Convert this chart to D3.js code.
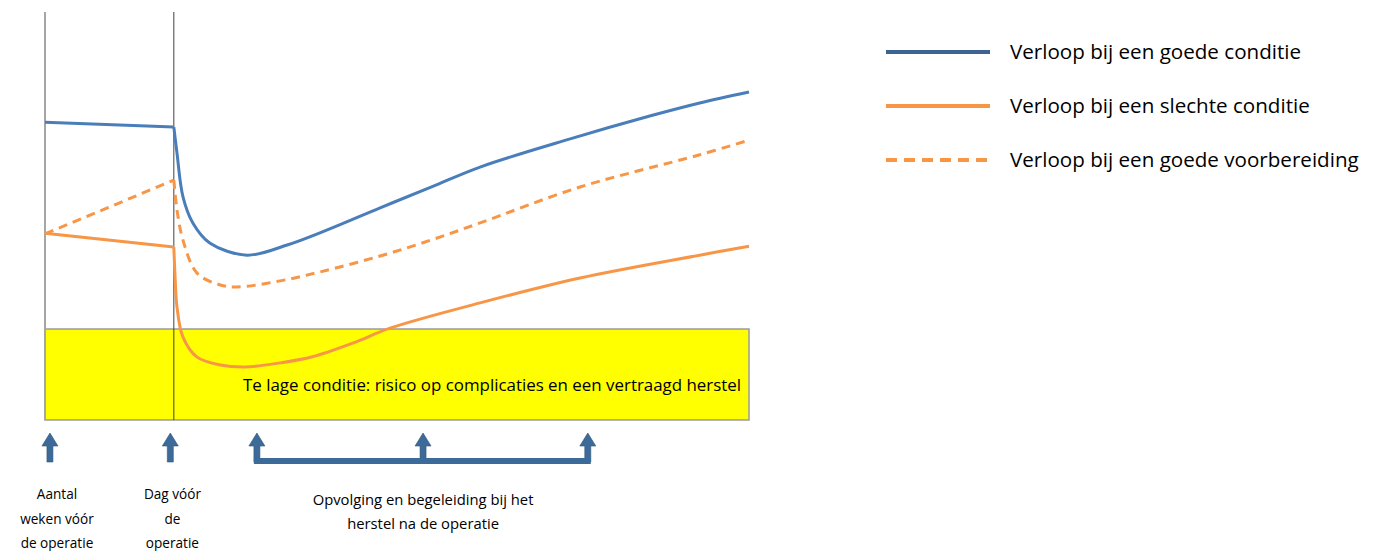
<!DOCTYPE html>
<html><head><meta charset="utf-8">
<script src="https://cdn.jsdelivr.net/npm/d3@7"></script>
<style>body{margin:0;background:#fff}svg{display:block}text{font-family:"Open Sans",sans-serif;fill:#000}</style>
</head><body><svg id="c" width="1376" height="551"></svg>
<script>
// Data (conceptual units: time 0-100, condition 0-100)
const goedeConditie = [[0,73.0],[18.3,71.8],[18.75,65.4],[19.6,54.7],[21.0,48.3],[23.4,43.4],[28.7,40.4],[34.4,42.9],[40.1,46.6],[47.6,52.0],[55.0,57.2],[61.8,62.0],[74.6,68.9],[85.9,74.5],[93.0,77.7],[100,80.4]];
const slechteConditie = [[0,45.8],[18.3,42.4],[18.5,34.3],[18.75,27.7],[19.6,20.3],[21.6,15.4],[24.9,13.5],[28.4,13.0],[33.4,14.0],[38.0,15.5],[43.8,18.9],[49.0,22.5],[61.8,28.7],[76.0,34.8],[93.0,40.4],[100,42.6]];
const goedeVoorbereiding = [[0,45.6],[18.3,58.8],[18.75,51.5],[19.6,44.1],[21.6,36.0],[24.9,33.1],[27.3,32.6],[33.4,34.1],[39.1,36.3],[47.6,40.2],[55.0,44.2],[61.8,48.3],[76.0,57.1],[93.0,65.0],[100,68.6]];
const drempel = 22.3;          // below: te lage conditie
const operatieDag = 18.3;      // dag vóór de operatie
const seriesNames = ["Verloop bij een goede conditie","Verloop bij een slechte conditie","Verloop bij een goede voorbereiding"];
const zoneLabel = "Te lage conditie: risico op complicaties en een vertraagd herstel";
const markers = [{t:0.7, label:["Aantal","weken vóór","de operatie"], lx:1.7},{t:17.8, label:["Dag vóór","de","operatie"], lx:18.1}];
const followUp = [30.1, 53.7, 77.1];
const followUpLabel = ["Opvolging en begeleiding bij het","herstel na de operatie"];

const svg = d3.select("#c");
const x = d3.scaleLinear().domain([0,100]).range([45,749]);
const y = d3.scaleLinear().domain([0,100]).range([420,12]);

// yellow zone
svg.append("rect").attr("x",x(0)).attr("y",y(drempel)).attr("width",x(100)-x(0)).attr("height",y(0)-y(drempel))
  .attr("fill","#ffff00").attr("stroke","#9a9a9a").attr("stroke-width",1.5);
svg.append("text").attr("x",x(63.5)).attr("y",y(7.0)).attr("text-anchor","middle").attr("font-size",16.9).text(zoneLabel);

// axes lines
svg.append("line").attr("x1",x(0)).attr("x2",x(0)).attr("y1",y(100)).attr("y2",y(0)).attr("stroke","#a6a6a6").attr("stroke-width",2);
svg.append("line").attr("x1",x(operatieDag)).attr("x2",x(operatieDag)).attr("y1",y(100)).attr("y2",y(0)).attr("stroke","#404040").attr("stroke-width",1);

const blue="#4a7ebb", orange="#f79646", legendBlue="#3b6495";
const lin = d3.line().x(d=>x(d[0])).y(d=>y(d[1]));
const crv = d3.line().x(d=>x(d[0])).y(d=>y(d[1])).curve(d3.curveCatmullRom.alpha(0.5));
function drawSeries(data,color,dash){
  const g = svg.append("g").attr("fill","none").attr("stroke",color).attr("stroke-width",3).attr("stroke-dasharray",dash||null);
  g.append("path").attr("d",lin(data.slice(0,2)));
  g.append("path").attr("d",crv(data.slice(1)));
}
drawSeries(goedeVoorbereiding,orange,"9,6");
drawSeries(slechteConditie,orange);
drawSeries(goedeConditie,blue);

// legend
const leg = [{c:legendBlue,d:null},{c:orange,d:null},{c:orange,d:"11,7"}];
leg.forEach((l,i)=>{
  const yy = 52 + i*54;
  svg.append("line").attr("x1",886).attr("x2",990).attr("y1",yy).attr("y2",yy).attr("stroke",l.c).attr("stroke-width",4).attr("stroke-dasharray",l.d);
  svg.append("text").attr("x",1010).attr("y",yy+7).attr("font-size",20.6).text(seriesNames[i]);
});

// arrows
const arrowBlue="#3c6b9a";
function upArrow(cx){
  const top=433, hb=446;
  svg.append("path").attr("d",`M${cx},${top} L${cx+8},${hb} L${cx+3},${hb} L${cx+3},${462} L${cx-3},${462} L${cx-3},${hb} L${cx-8},${hb} Z`)
   .attr("fill",arrowBlue).attr("stroke","#2f5578").attr("stroke-width",0.6);
}
markers.forEach(m=>{
  upArrow(x(m.t));
  m.label.forEach((s,i)=>svg.append("text").attr("x",x(m.lx)).attr("y",499+i*24.5).attr("text-anchor","middle").attr("font-size",13.6).text(s));
});
followUp.forEach(t=>upArrow(x(t)));
svg.append("path").attr("d",`M${x(followUp[0])-3},458 H${x(followUp[2])+3} V464 H${x(followUp[0])-3} Z`).attr("fill",arrowBlue);
followUpLabel.forEach((s,i)=>svg.append("text").attr("x",x(followUp[1])).attr("y",505+i*24).attr("text-anchor","middle").attr("font-size",14.8).text(s));
</script></body></html>
